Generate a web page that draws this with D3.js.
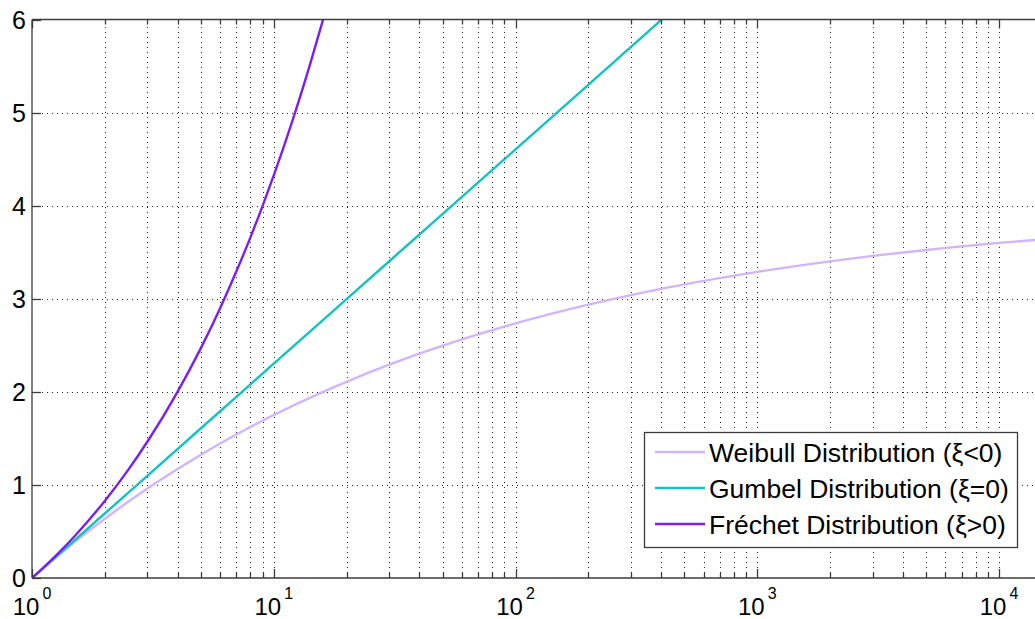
<!DOCTYPE html>
<html>
<head>
<meta charset="utf-8">
<script src="https://cdn.jsdelivr.net/npm/d3@7"></script>
<style>
  html, body { margin: 0; padding: 0; background: #fff; overflow: hidden; }
  svg { display: block; font-family: "Liberation Sans", Arial, sans-serif; }
</style>
</head>
<body>
<svg id="chart" width="1035" height="619"></svg>
<script>
// Return period (x) and return level (y) samples for each distribution
const weibullX = [1, 1.5, 2, 3, 5, 7, 10, 15, 20, 30, 50, 70, 100, 200, 300, 500, 1000, 2000, 3000, 5000, 10000, 14775];
const weibullY = [0, 0.386, 0.636, 0.961, 1.325, 1.541, 1.751, 1.968, 2.108, 2.291, 2.496, 2.617, 2.735, 2.936, 3.039, 3.154, 3.289, 3.402, 3.460, 3.524, 3.600, 3.636];

const gumbelX = [1, 2, 5, 10, 20, 50, 100, 200, 403];
const gumbelY = [0, 0.693, 1.609, 2.303, 2.996, 3.912, 4.605, 5.298, 6.0];

const frechetX = [1, 1.25, 1.5, 2, 2.5, 3, 4, 5, 6, 7, 8, 9, 10, 12, 14, 16];
const frechetY = [0, 0.236, 0.449, 0.828, 1.162, 1.464, 2.0, 2.472, 2.899, 3.292, 3.657, 4.0, 4.325, 4.928, 5.483, 6.0];

const seriesNames = ["Weibull Distribution (\u03BE<0)", "Gumbel Distribution (\u03BE=0)", "Fr\u00E9chet Distribution (\u03BE>0)"];
const seriesColors = ["#d2b4fb", "#14c2c2", "#7b1fee"];

const yTicks = [0, 1, 2, 3, 4, 5, 6];
const xMajorExponents = [0, 1, 2, 3, 4];
const xLimits = [1, 14775];
const yLimits = [0, 6];

const svg = d3.select("#chart");
const plotL = 32, plotR = 1040, plotT = 19.5, plotB = 578;

const x = d3.scaleLog().domain(xLimits).range([plotL, plotR]);
const y = d3.scaleLinear().domain(yLimits).range([plotB, plotT]);

// minor + major positions across the visible decades
const minorVals = [];
for (let e = 0; e <= 4; e++) {
  for (let m = 1; m <= 9; m++) {
    const v = m * Math.pow(10, e);
    if (v <= xLimits[1]) minorVals.push(v);
  }
}

svg.append("defs").append("clipPath").attr("id", "plotClip")
  .append("rect").attr("x", plotL).attr("y", plotT).attr("width", plotR - plotL).attr("height", plotB - plotT);

// dotted grid
const grid = svg.append("g").attr("stroke", "#222").attr("stroke-width", 1)
  .attr("stroke-dasharray", "1,4").attr("fill", "none");
minorVals.filter(v => v > 1).forEach(v => {
  const px = Math.round(x(v)) + 0.5;
  grid.append("line").attr("x1", px).attr("x2", px).attr("y1", plotB).attr("y2", plotT);
});
yTicks.filter(t => t > 0 && t < 6).forEach(t => {
  const py = Math.round(y(t)) + 0.5;
  grid.append("line").attr("x1", plotL).attr("x2", plotR).attr("y1", py).attr("y2", py);
});

// curves
const line = d3.line().x(d => x(d[0])).y(d => y(d[1])).curve(d3.curveMonotoneX);
const series = [
  d3.zip(weibullX, weibullY),
  d3.zip(gumbelX, gumbelY),
  d3.zip(frechetX, frechetY)
];
const curves = svg.append("g").attr("clip-path", "url(#plotClip)");
series.forEach((pts, i) => {
  curves.append("path").datum(pts).attr("d", line)
    .attr("fill", "none").attr("stroke", seriesColors[i]).attr("stroke-width", 2.4)
    .attr("stroke-linejoin", "round");
});

// axis frame and inward ticks
const axisColor = "#3c3c3c";
const frame = svg.append("g").attr("stroke", axisColor).attr("stroke-width", 1.3).attr("fill", "none");
frame.append("line").attr("x1", plotL).attr("x2", plotR).attr("y1", plotB).attr("y2", plotB);
frame.append("line").attr("x1", plotL).attr("x2", plotR).attr("y1", plotT).attr("y2", plotT);
frame.append("line").attr("x1", plotL).attr("x2", plotL).attr("y1", plotT).attr("y2", plotB);

minorVals.forEach(v => {
  const major = Math.abs(Math.log10(v) - Math.round(Math.log10(v))) < 1e-9;
  const len = major ? 9 : 5;
  const px = Math.round(x(v)) + 0.5;
  frame.append("line").attr("x1", px).attr("x2", px).attr("y1", plotB).attr("y2", plotB - len);
  frame.append("line").attr("x1", px).attr("x2", px).attr("y1", plotT).attr("y2", plotT + len);
});
yTicks.forEach(t => {
  const py = Math.round(y(t)) + 0.5;
  frame.append("line").attr("x1", plotL).attr("x2", plotL + 9).attr("y1", py).attr("y2", py);
});

// y tick labels
svg.append("g").selectAll("text").data(yTicks).join("text")
  .attr("x", plotL - 6).attr("y", d => y(d)).attr("dy", "0.36em")
  .attr("text-anchor", "end").attr("font-size", 25).attr("fill", "#000")
  .text(d => d);

// x tick labels: 10 with superscript exponent
const xl = svg.append("g");
xMajorExponents.forEach(e => {
  const t = xl.append("text").attr("x", x(Math.pow(10, e))).attr("y", 615)
    .attr("text-anchor", "middle").attr("font-size", 24).attr("fill", "#000");
  t.append("tspan").text("10");
  t.append("tspan").attr("font-size", 16).attr("dx", 3).attr("dy", -16).text(e);
});

// legend
const lg = svg.append("g");
lg.append("rect").attr("x", 644.5).attr("y", 432.5).attr("width", 373).attr("height", 115)
  .attr("fill", "#fff").attr("stroke", axisColor).attr("stroke-width", 1.3);
seriesNames.forEach((name, i) => {
  const cy = 452 + i * 36;
  lg.append("line").attr("x1", 655).attr("x2", 705).attr("y1", cy).attr("y2", cy)
    .attr("stroke", seriesColors[i]).attr("stroke-width", 2.4);
  lg.append("text").attr("x", 709).attr("y", cy).attr("dy", "0.36em")
    .attr("font-size", 26.5).attr("fill", "#000").text(name);
});
</script>
</body>
</html>
